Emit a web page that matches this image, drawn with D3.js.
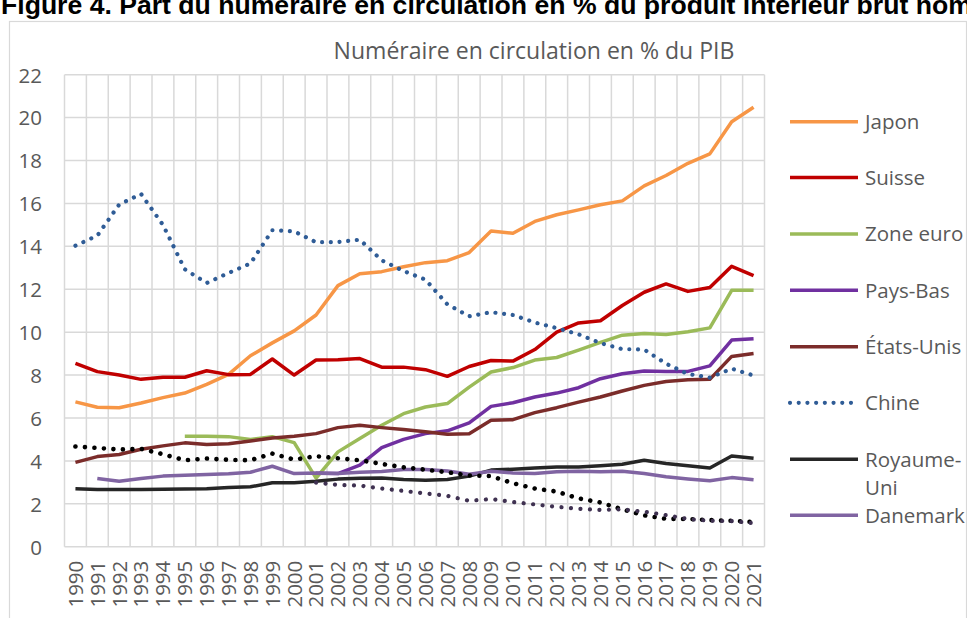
<!DOCTYPE html>
<html>
<head>
<meta charset="utf-8">
<script src="https://cdn.jsdelivr.net/npm/d3@7"></script>
<style>
  html, body { margin: 0; padding: 0; background: #ffffff; overflow: hidden; }
  svg { display: block; }
</style>
</head>
<body>
<svg id="chart" width="967" height="618"></svg>
<script>
// ---------- DATA ----------
const years = ["1990","1991","1992","1993","1994","1995","1996","1997","1998","1999","2000","2001","2002","2003","2004","2005","2006","2007","2008","2009","2010","2011","2012","2013","2014","2015","2016","2017","2018","2019","2020","2021"];
const yTicks = [0,2,4,6,8,10,12,14,16,18,20,22];

const japon     = [6.75,6.5,6.48,6.7,6.95,7.16,7.57,8.03,8.9,9.5,10.06,10.8,12.17,12.72,12.82,13.05,13.24,13.33,13.71,14.72,14.61,15.16,15.47,15.7,15.94,16.12,16.82,17.3,17.87,18.31,19.81,20.48];
const suisse    = [8.55,8.16,8.0,7.8,7.9,7.9,8.2,8.02,8.03,8.75,8.0,8.7,8.71,8.77,8.37,8.37,8.25,7.94,8.4,8.68,8.65,9.19,10.0,10.43,10.53,11.24,11.86,12.25,11.9,12.08,13.07,12.64];
const zoneEuro  = [null,null,null,null,null,5.15,5.15,5.13,5.0,5.13,4.85,3.2,4.42,5.04,5.66,6.2,6.51,6.67,7.44,8.14,8.35,8.7,8.82,9.16,9.52,9.86,9.94,9.89,10.02,10.2,11.95,11.95];
const paysBas   = [null,null,null,null,null,null,null,null,null,null,null,3.42,3.41,3.8,4.62,5.0,5.27,5.4,5.77,6.54,6.71,6.98,7.16,7.41,7.83,8.06,8.19,8.17,8.17,8.43,9.63,9.69];
const etatsUnis = [3.93,4.2,4.3,4.54,4.7,4.84,4.76,4.8,4.93,5.07,5.15,5.27,5.55,5.66,5.55,5.46,5.36,5.24,5.27,5.89,5.92,6.25,6.48,6.74,6.98,7.26,7.52,7.7,7.78,7.8,8.87,9.0];
const chine     = [14.03,14.5,15.95,16.44,15.0,12.93,12.29,12.76,13.2,14.75,14.7,14.19,14.2,14.31,13.35,12.85,12.45,11.3,10.74,10.93,10.8,10.45,10.19,9.9,9.49,9.21,9.19,8.53,8.05,7.88,8.3,7.98];
const royaumeUni= [2.7,2.67,2.67,2.67,2.68,2.69,2.7,2.76,2.79,2.98,2.98,3.05,3.15,3.19,3.2,3.13,3.1,3.13,3.29,3.57,3.61,3.67,3.72,3.72,3.77,3.84,4.03,3.88,3.77,3.67,4.23,4.12];
const danemark  = [null,3.18,3.05,3.18,3.29,3.33,3.36,3.4,3.47,3.75,3.41,3.44,3.41,3.47,3.5,3.6,3.6,3.53,3.38,3.52,3.44,3.41,3.49,3.52,3.49,3.52,3.41,3.26,3.16,3.07,3.22,3.12];
const suede     = [4.67,4.6,4.53,4.56,4.31,4.03,4.11,4.05,4.03,4.34,4.06,4.22,4.12,4.03,3.86,3.7,3.59,3.47,3.32,3.29,2.96,2.71,2.57,2.25,2.06,1.74,1.46,1.3,1.29,1.24,1.21,1.15];
const norvege   = [null,null,null,null,null,null,null,null,null,null,null,2.99,2.88,2.85,2.71,2.6,2.48,2.37,2.14,2.22,2.08,1.97,1.86,1.77,1.71,1.74,1.63,1.47,1.29,1.21,1.19,1.1];

const seriesNames = ["Japon","Suisse","Zone euro","Pays-Bas","États-Unis","Chine","Royaume-Uni","Danemark","Suède","Norvège"];
const seriesValues = [japon,suisse,zoneEuro,paysBas,etatsUnis,chine,royaumeUni,danemark,suede,norvege];
const legendNames = ["Japon","Suisse","Zone euro","Pays-Bas","États-Unis","Chine","Royaume-Uni","Danemark"];

// ---------- STYLES ----------
const styles = {
  "Japon":       {color:"#f79646", width:3.5, dash:null},
  "Suisse":      {color:"#c00000", width:3.5, dash:null},
  "Zone euro":   {color:"#9bbb59", width:3.5, dash:null},
  "Pays-Bas":    {color:"#7030a0", width:3.5, dash:null},
  "États-Unis":  {color:"#7b2c2a", width:3.5, dash:null},
  "Chine":       {color:"#2f5c96", width:4.2, dash:"0.01 8.7"},
  "Royaume-Uni": {color:"#262626", width:3.5, dash:null},
  "Danemark":    {color:"#8064a2", width:3.5, dash:null},
  "Suède":       {color:"#000000", width:4.6, dash:"0.01 9.5"},
  "Norvège":     {color:"#3f3151", width:4.2, dash:"0.01 9.5"}
};

const svg = d3.select("#chart");
const FONT = "'Open Sans', Lato, sans-serif";
const TXT = "#595959";
const GRID = "#d9d9d9";
const FS = 20.5;

// Figure title (clipped at top, as in the source)
svg.append("text")
  .attr("x", 1).attr("y", 14)
  .attr("font-family", "'Liberation Sans', Arial, sans-serif")
  .attr("font-weight", "bold")
  .attr("font-size", 26.6)
  .attr("fill", "#000")
  .text("Figure 4. Part du numéraire en circulation en % du produit intérieur brut nominal");

// Chart border
svg.append("rect")
  .attr("x", 9.5).attr("y", 21.5).attr("width", 957).attr("height", 640)
  .attr("fill", "#fff").attr("stroke", GRID).attr("stroke-width", 1.2);

// Chart title, fitted to the source width
const title = svg.append("text")
  .attr("x", 534).attr("y", 59)
  .attr("text-anchor", "middle")
  .attr("font-family", FONT).attr("font-size", 20)
  .attr("fill", TXT)
  .text("Numéraire en circulation en % du PIB");
const tw = title.node().getComputedTextLength();
if (tw > 0) title.attr("font-size", 20 * 401 / tw);

// Scales
const x = d3.scaleBand().domain(years).range([64.5, 764.5]).padding(0);
const y = d3.scaleLinear().domain([0, 22]).range([546.7, 74.7]);
const cx = d => x(d) + x.bandwidth() / 2;

// Gridlines
const grid = svg.append("g");
grid.selectAll("line.h").data(yTicks).join("line")
  .attr("x1", 64.5).attr("x2", 764.5)
  .attr("y1", d => y(d)).attr("y2", d => y(d))
  .attr("stroke", GRID).attr("stroke-width", 1.5);
const bounds = years.map(d => x(d)).concat([x(years[years.length-1]) + x.bandwidth()]);
grid.selectAll("line.v").data(bounds).join("line")
  .attr("x1", d => d).attr("x2", d => d)
  .attr("y1", y(22)).attr("y2", y(0))
  .attr("stroke", GRID).attr("stroke-width", 1.5);

// Y axis labels
const yAxis = d3.axisLeft(y).tickValues(yTicks).tickSize(0).tickPadding(0);
const yg = svg.append("g").attr("transform", "translate(42,0)").call(yAxis);
yg.select(".domain").remove();
yg.selectAll("text").attr("font-family", FONT).attr("font-size", FS).attr("fill", TXT).attr("dy", "0.36em");

// X axis labels
const xAxis = d3.axisBottom(x).tickSize(0).tickPadding(0);
const xg = svg.append("g").attr("transform", `translate(0,${y(0)})`).call(xAxis);
xg.select(".domain").remove();
xg.selectAll("text")
  .attr("font-family", FONT).attr("font-size", FS).attr("fill", TXT)
  .attr("text-anchor", "end")
  .attr("transform", "rotate(-90)")
  .attr("x", -14).attr("y", 0).attr("dy", "0.36em");

// Lines
const line = d3.line()
  .defined(d => d.v !== null)
  .x(d => cx(d.year))
  .y(d => y(d.v));

seriesNames.forEach((name, i) => {
  const st = styles[name];
  const data = years.map((yr, j) => ({year: yr, v: seriesValues[i][j]}));
  svg.append("path")
    .datum(data)
    .attr("d", line)
    .attr("fill", "none")
    .attr("stroke", st.color)
    .attr("stroke-width", st.width)
    .attr("stroke-linejoin", "round")
    .attr("stroke-linecap", st.dash ? "round" : "butt")
    .attr("stroke-dasharray", st.dash);
});

// Legend
const legendY = [121.7, 177.5, 234, 290.2, 346.7, 402.8, 459.3, 515.3];
const lg = svg.append("g");
legendNames.forEach((name, i) => {
  const st = styles[name];
  const ly = legendY[i];
  lg.append("line")
    .attr("x1", 790).attr("x2", 858)
    .attr("y1", ly).attr("y2", ly)
    .attr("stroke", st.color)
    .attr("stroke-width", st.width)
    .attr("stroke-linecap", st.dash ? "round" : "butt")
    .attr("stroke-dasharray", st.dash);
  const t = lg.append("text")
    .attr("x", 865).attr("y", ly)
    .attr("dy", "0.36em")
    .attr("font-family", FONT).attr("font-size", FS).attr("fill", TXT);
  if (name === "Royaume-Uni") {
    t.append("tspan").attr("x", 865).text("Royaume-");
    t.append("tspan").attr("x", 865).attr("dy", "1.4em").text("Uni");
  } else {
    t.text(name);
  }
});
</script>
</body>
</html>
